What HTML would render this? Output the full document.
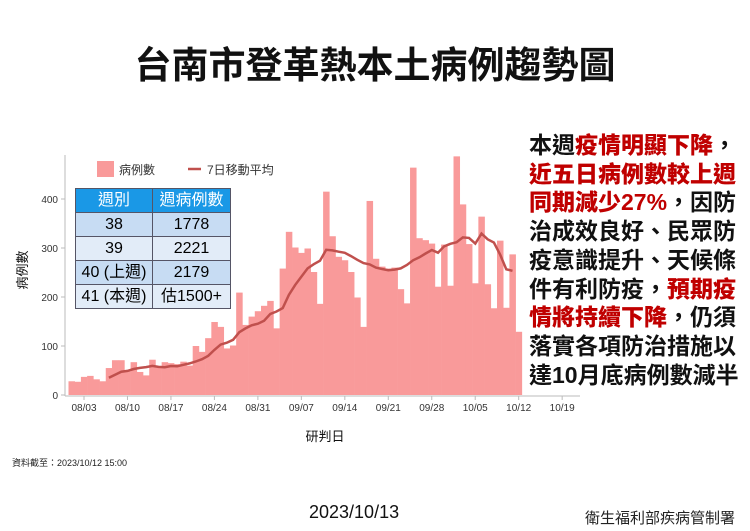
<!DOCTYPE html>
<html><head><meta charset="utf-8"><style>
body{margin:0;background:#fff;width:750px;height:531px;overflow:hidden;position:relative;font-family:"Liberation Sans","Noto Sans CJK TC",sans-serif}
.t{position:absolute}
#rt{position:absolute;left:529px;top:131px;font-size:23px;font-weight:bold;line-height:28.7px;color:#111;white-space:nowrap;letter-spacing:0px}
#rt b{color:#c00000}
table{position:absolute;left:75px;top:188px;border-collapse:collapse;font-size:16px;text-align:center;font-family:"Liberation Sans","Noto Sans CJK TC",sans-serif}
td{border:1px solid #556;height:23px;padding:0;line-height:22px;overflow:hidden;white-space:nowrap}
</style></head><body>
<div class="t" style="left:0;width:750px;top:35px;text-align:center;font-size:37px;font-weight:bold;color:#111">台南市登革熱本土病例趨勢圖</div>
<svg id="c" width="750" height="531" style="position:absolute;left:0;top:0"></svg>
<table>
<tr style="background:#1a98e6;color:#fff"><td style="width:76px">週別</td><td style="width:77px">週病例數</td></tr>
<tr style="background:#c7dcf3"><td>38</td><td>1778</td></tr>
<tr style="background:#e2ecf8"><td>39</td><td>2221</td></tr>
<tr style="background:#c7dcf3"><td>40 (上週)</td><td>2179</td></tr>
<tr style="background:#e2ecf8"><td>41 (本週)</td><td>估1500+</td></tr>
</table>
<div id="rt">本週<b>疫情明顯下降</b>，<br><b>近五日病例數較上週</b><br><b>同期減少27%</b>，因防<br>治成效良好、民眾防<br>疫意識提升、天候條<br>件有利防疫，<b>預期疫</b><br><b>情將持續下降</b>，仍須<br>落實各項防治措施以<br>達10月底病例數減半</div>
<div class="t" style="left:12px;top:456px;font-size:9px;color:#222">資料截至：2023/10/12 15:00</div>
<div class="t" style="left:309px;top:502px;font-size:18px;color:#111">2023/10/13</div>
<div class="t" style="left:585px;top:507px;font-size:15px;color:#222">衛生福利部疾病管制署</div>
<script>
var d=[28,27,37,39,32,28,55,71,71,48,67,47,40,72,56,67,65,63,68,60,100,88,116,149,139,95,101,209,143,160,171,182,192,136,258,333,301,290,299,251,186,415,324,282,275,251,199,139,396,278,262,258,260,216,187,464,320,316,309,221,307,223,487,389,308,228,364,226,177,315,178,287,129];
var s='',X0=71.6,W=6.21,Y0=395,k=0.49;
for(var i=0;i<d.length;i++){var h=d[i]*k;s+='<rect x="'+(X0+i*W-W/2).toFixed(2)+'" y="'+(Y0-h).toFixed(2)+'" width="'+(W+0.3).toFixed(2)+'" height="'+h.toFixed(2)+'" fill="#f99a9a"/>';}
var p=[];for(i=6;i<72;i++){var a=0;for(var j=i-6;j<=i;j++)a+=d[j];a/=7;p.push((X0+i*W).toFixed(1)+','+(Y0-a*k).toFixed(1));}
s+='<polyline points="'+p.join(' ')+'" fill="none" stroke="#c0504d" stroke-width="2.5"/>';
s+='<line x1="65" y1="155" x2="65" y2="396" stroke="#bbb"/><line x1="65" y1="396" x2="580" y2="396" stroke="#bbb"/>';
for(i=0;i<=4;i++){var y=Y0-i*100*k;s+='<line x1="61" x2="65" y1="'+y+'" y2="'+y+'" stroke="#bbb"/><text x="58" y="'+(y+4)+'" font-size="10" text-anchor="end" fill="#333">'+(i*100)+'</text>';}
var L=['08/03','08/10','08/17','08/24','08/31','09/07','09/14','09/21','09/28','10/05','10/12','10/19'];
for(i=0;i<L.length;i++){var x=84+i*7*W;s+='<line x1="'+x+'" x2="'+x+'" y1="396" y2="400" stroke="#bbb"/><text x="'+x+'" y="411" font-size="10" text-anchor="middle" fill="#333">'+L[i]+'</text>';}
s+='<rect x="97" y="161" width="17" height="16" fill="#f99a9a"/><text x="119" y="174" font-size="12" fill="#333">病例數</text>';
s+='<line x1="188" x2="201" y1="169" y2="169" stroke="#c0504d" stroke-width="2.5"/><text x="207" y="174" font-size="12" fill="#333">7日移動平均</text>';
s+='<text x="325" y="441" font-size="13" text-anchor="middle" fill="#111">研判日</text>';
s+='<text transform="translate(27,270) rotate(-90)" font-size="13" text-anchor="middle" fill="#111">病例數</text>';
document.getElementById('c').innerHTML=s;
</script>
</body></html>
